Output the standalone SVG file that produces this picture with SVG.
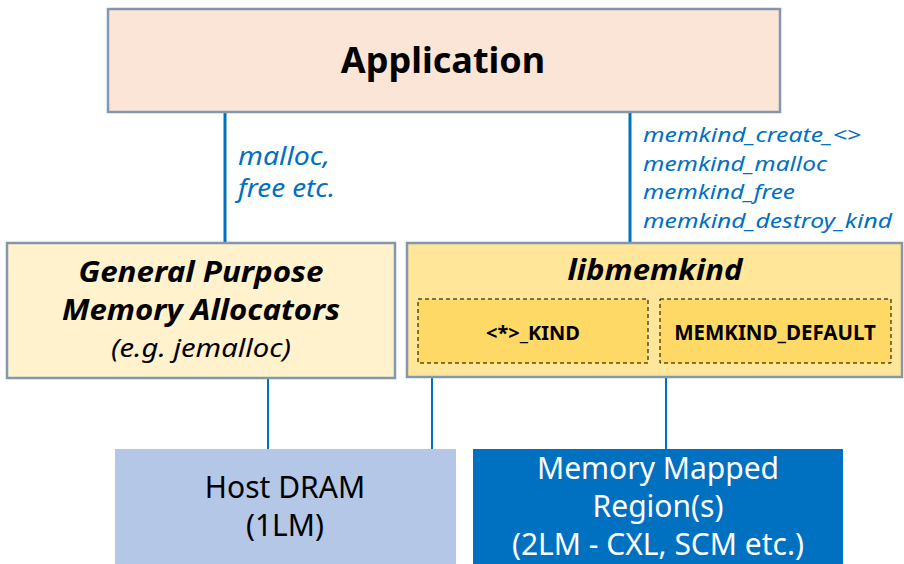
<svg xmlns="http://www.w3.org/2000/svg" width="904" height="564" viewBox="0 0 904 564">
<style>
.box{stroke:#8497b0;stroke-width:2.5}
.inner{fill:#ffd966;stroke:#000;stroke-width:1;stroke-dasharray:4 3}
.t{font-family:"Noto Sans","Liberation Sans",sans-serif;text-anchor:middle}
.api{font-family:"Noto Sans","Liberation Sans",sans-serif;font-style:italic;fill:#0070c0}
.conn line{stroke:#0070c0}
</style>
<rect width="904" height="564" fill="#fff"/>
<g class="conn">
<line x1="225" y1="112" x2="225" y2="242" stroke-width="3"/>
<line x1="630" y1="112" x2="630" y2="242" stroke-width="3"/>
<line x1="268" y1="378" x2="268" y2="449" stroke-width="2"/>
<line x1="432" y1="378" x2="432" y2="449" stroke-width="2"/>
<line x1="666" y1="378" x2="666" y2="449" stroke-width="2"/>
</g>
<g id="application">
<rect class="box" x="108" y="9" width="672" height="103" fill="#fbe5d6"/>
<text class="t" x="443" y="73" font-size="36" font-weight="bold">Application</text>
</g>
<g id="label-malloc">
<text class="api" x="238" y="165" font-size="25" textLength="92" lengthAdjust="spacingAndGlyphs">malloc,</text>
<text class="api" x="238" y="197" font-size="25" textLength="97" lengthAdjust="spacingAndGlyphs">free etc.</text>
</g>
<g id="label-memkind">
<text class="api" x="643" y="142" font-size="20.5" textLength="218" lengthAdjust="spacingAndGlyphs">memkind_create_&lt;&gt;</text>
<text class="api" x="643" y="170.5" font-size="20.5" textLength="184" lengthAdjust="spacingAndGlyphs">memkind_malloc</text>
<text class="api" x="643" y="199" font-size="20.5" textLength="152" lengthAdjust="spacingAndGlyphs">memkind_free</text>
<text class="api" x="643" y="227.5" font-size="20.5" textLength="249" lengthAdjust="spacingAndGlyphs">memkind_destroy_kind</text>
</g>
<g id="gpma">
<rect class="box" x="7" y="243" width="388" height="135" fill="#fff2cc"/>
<text class="t" x="201" y="282" font-size="29" font-weight="bold" font-style="italic" textLength="245" lengthAdjust="spacingAndGlyphs">General Purpose</text>
<text class="t" x="201" y="320" font-size="29" font-weight="bold" font-style="italic" textLength="278" lengthAdjust="spacingAndGlyphs">Memory Allocators</text>
<text class="t" x="201" y="357" font-size="26" font-style="italic" textLength="180" lengthAdjust="spacingAndGlyphs">(e.g. jemalloc)</text>
</g>
<g id="libmemkind">
<rect class="box" x="407" y="243" width="495" height="134" fill="#ffe699"/>
<text class="t" x="655" y="280" font-size="29" font-weight="bold" font-style="italic" textLength="175" lengthAdjust="spacingAndGlyphs">libmemkind</text>
</g>
<g id="kind">
<rect class="inner" x="418" y="299" width="230" height="64"/>
<text class="t" x="533" y="340" font-size="20" font-weight="bold">&lt;*&gt;_KIND</text>
</g>
<g id="memkind-default">
<rect class="inner" x="660" y="299" width="231" height="64"/>
<text class="t" x="775" y="340" font-size="20.5" font-weight="bold">MEMKIND_DEFAULT</text>
</g>
<g id="host-dram">
<rect x="115" y="449" width="341" height="115" fill="#b4c7e7"/>
<text class="t" x="285" y="498" font-size="30">Host DRAM</text>
<text class="t" x="285" y="536" font-size="30">(1LM)</text>
</g>
<g id="mmr">
<rect x="473" y="449" width="370" height="115" fill="#0070c0"/>
<text class="t" x="658" y="479" font-size="30" fill="#fff">Memory Mapped</text>
<text class="t" x="658" y="517" font-size="30" fill="#fff">Region(s)</text>
<text class="t" x="658" y="555" font-size="30" fill="#fff">(2LM - CXL, SCM etc.)</text>
</g>
</svg>
